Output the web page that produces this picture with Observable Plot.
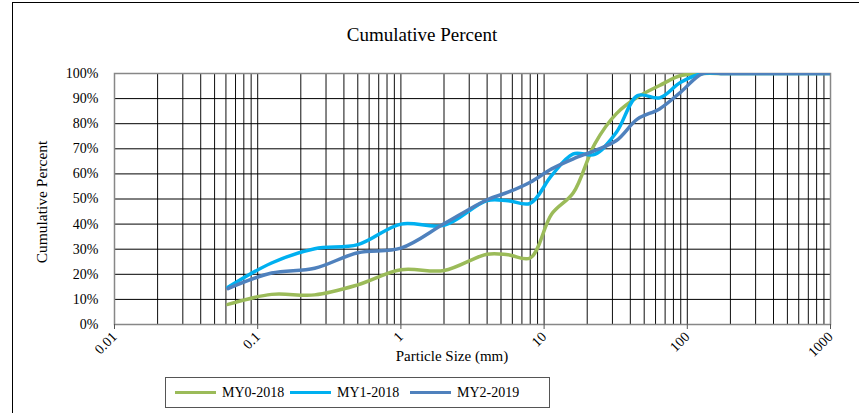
<!DOCTYPE html>
<html>
<head>
<meta charset="utf-8">
<script src="https://cdn.jsdelivr.net/npm/d3@7"></script>
<script src="https://cdn.jsdelivr.net/npm/@observablehq/plot@0.6"></script>
<style>
  body { margin: 0; background: #fff; }
  #wrap { position: relative; width: 859px; height: 413px; overflow: hidden; font-family: "Liberation Serif", "Times New Roman", serif; }
  #border { position: absolute; left: 12px; top: 2px; width: 900px; height: 500px; border-top: 1.5px solid #000; border-left: 1.5px solid #000; box-sizing: border-box; }
  #title { position: absolute; left: 422px; top: 24px; transform: translateX(-50%); font-size: 19px; color: #000; white-space: nowrap; }
  #xlabel { position: absolute; left: 452px; top: 348px; transform: translateX(-50%); font-size: 15px; white-space: nowrap; }
  #ylabel { position: absolute; left: 42px; top: 202px; transform: translate(-50%, -50%) rotate(-90deg); font-size: 15.5px; white-space: nowrap; }
  #legend { position: absolute; left: 165px; top: 377px; width: 385px; height: 31px; border: 1px solid #555; box-sizing: border-box; font-size: 14px; }
  .item { position: absolute; top: 0; height: 29px; display: flex; align-items: center; white-space: nowrap; }
  .swatch { width: 41px; height: 3.5px; margin-right: 6px; }
  #chart { position: absolute; left: 0; top: 0; }
</style>
</head>
<body>
<div id="wrap">
  <div id="border"></div>
  <div id="chart"></div>
  <div id="title">Cumulative Percent</div>
  <div id="xlabel">Particle Size (mm)</div>
  <div id="ylabel">Cumulative Percent</div>
  <div id="legend"></div>
</div>
<script>
// Sieve sizes (mm)
const sizes = [0.062, 0.125, 0.25, 0.5, 1, 2, 4, 5.6, 8, 11.3, 16, 22.6, 32, 45, 64, 90, 128, 180, 256, 512, 1024];
// Cumulative percent passing
const my0_2018 = [8, 12, 11.8, 15.8, 21.8, 21.5, 28, 27.8, 26.5, 44, 52.5, 72, 84, 90.6, 95.2, 99.2, 100, 100, 100, 100, 100];
const my1_2018 = [14.8, 24.5, 30.2, 31.8, 40, 39.5, 49.4, 49.3, 48.3, 59.4, 68, 67.8, 76.6, 91.2, 90.3, 96.5, 100, 100, 100, 100, 100];
const my2_2019 = [14.3, 20.5, 22.4, 28.6, 30.4, 40.1, 49.7, 52.7, 56.7, 62, 66, 69.3, 73.3, 81.9, 85.9, 92.6, 100, 100, 100, 100, 100];

const seriesNames = ["MY0-2018", "MY1-2018", "MY2-2019"];
const seriesColors = ["#9BBB59", "#00B0F0", "#4F81BD"];
const seriesValues = [my0_2018, my1_2018, my2_2019];

const xTickLabels = [0.01, 0.1, 1, 10, 100, 1000];
const yTickLabels = [0, 10, 20, 30, 40, 50, 60, 70, 80, 90, 100];

const rows = [];
seriesNames.forEach((name, i) => {
  sizes.forEach((s, j) => rows.push({series: name, size: s, pct: seriesValues[i][j]}));
});

const minorGrid = d3.scaleLog().domain([0.01, 1000]).ticks();

const chart = Plot.plot({
  width: 859,
  height: 413,
  marginLeft: 114,
  marginRight: 29,
  marginTop: 73,
  marginBottom: 89,
  style: {fontFamily: "'Liberation Serif', 'Times New Roman', serif", fontSize: "14px", background: "transparent", color: "#000"},
  x: {type: "log", domain: [0.01, 1000]},
  y: {domain: [0, 100]},
  color: {domain: seriesNames, range: seriesColors},
  marks: [
    Plot.gridX(minorGrid, {stroke: "#000", strokeOpacity: 0.95, strokeWidth: 1}),
    Plot.gridY(yTickLabels.slice(1, -1), {stroke: "#000", strokeOpacity: 1, strokeWidth: 1}),
    Plot.frame({stroke: "#878787", strokeWidth: 1.5}),
    Plot.axisX(xTickLabels, {tickSize: 5, tickRotate: -45, tickFormat: d => String(d), tickPadding: 5, stroke: "#555", label: null, fontSize: 14}),
    Plot.axisY(yTickLabels, {tickSize: 0, tickPadding: 16, tickFormat: d => d + "%", label: null, fontSize: 14}),
    Plot.line(rows, {x: "size", y: "pct", z: "series", stroke: "series", strokeWidth: 3.5, curve: "catmull-rom", clip: true})
  ]
});
document.getElementById("chart").appendChild(chart);

const legendLefts = [9, 124, 244];
const legend = document.getElementById("legend");
seriesNames.forEach((n, i) => {
  const item = document.createElement("div");
  item.className = "item";
  item.style.left = legendLefts[i] + "px";
  const sw = document.createElement("div");
  sw.className = "swatch";
  sw.style.background = seriesColors[i];
  const t = document.createElement("span");
  t.textContent = n;
  item.appendChild(sw);
  item.appendChild(t);
  legend.appendChild(item);
});
</script>
</body>
</html>
